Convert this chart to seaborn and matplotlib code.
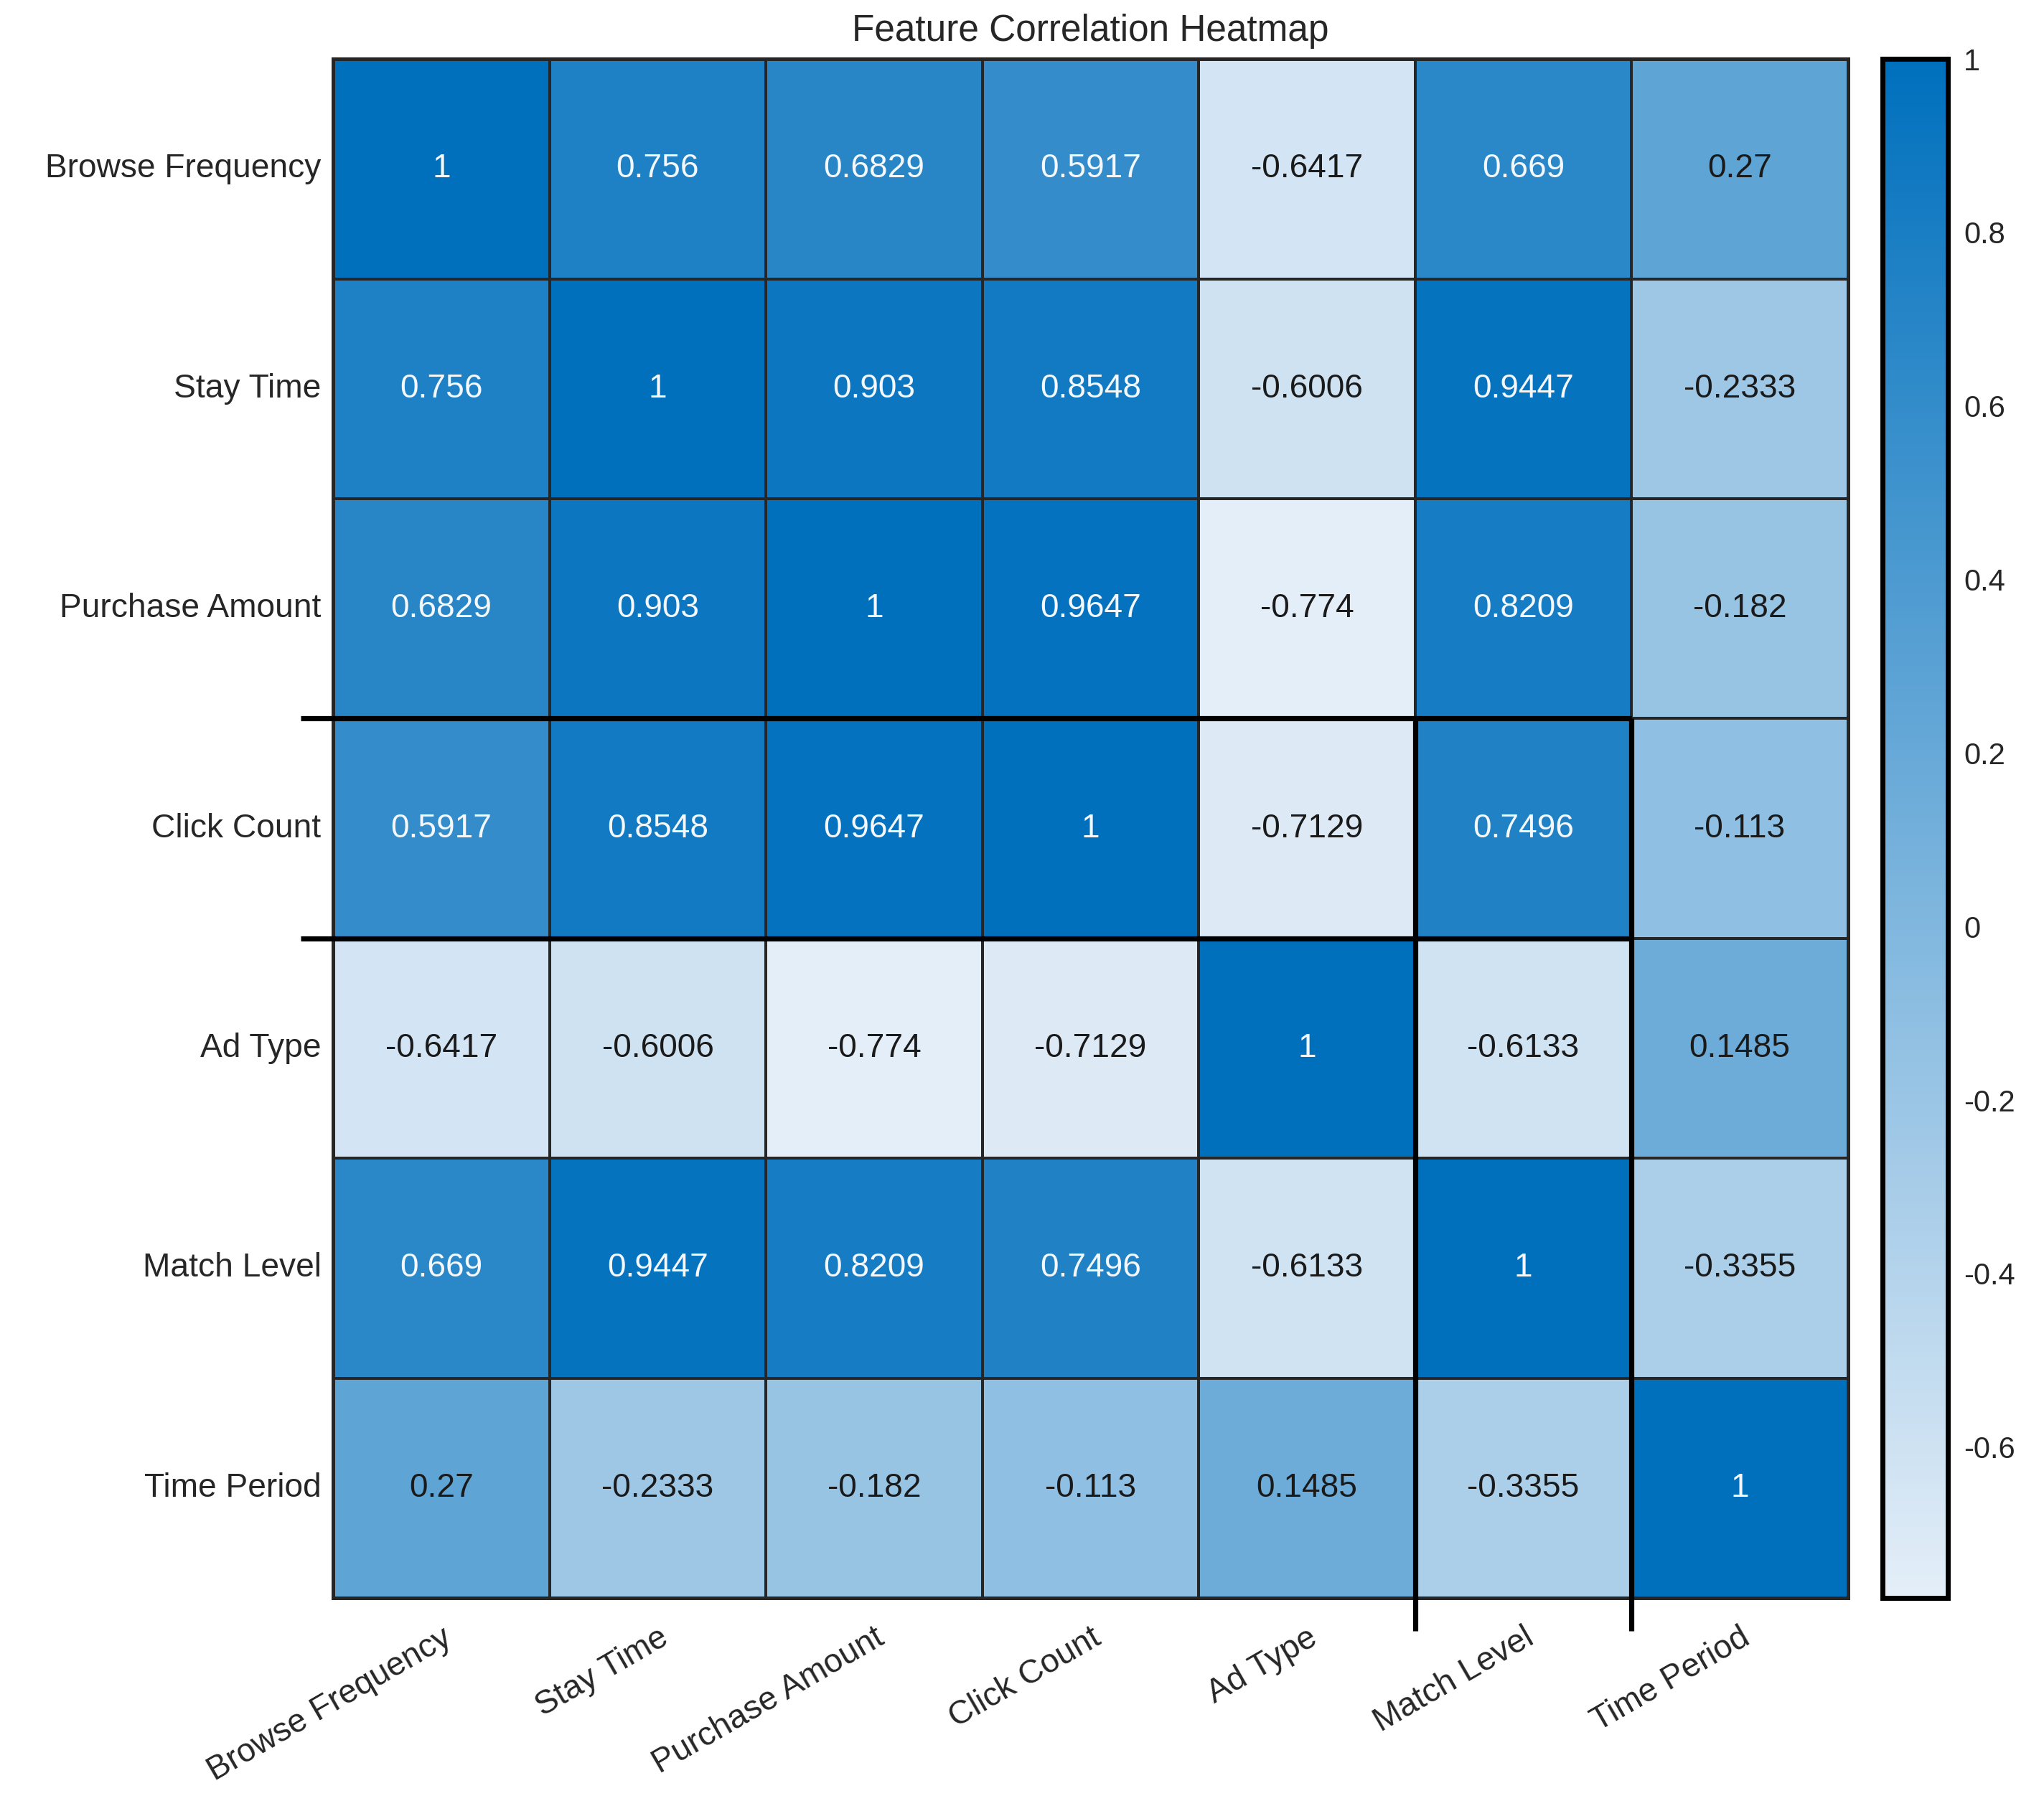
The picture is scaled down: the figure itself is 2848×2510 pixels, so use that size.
import numpy as np
import pandas as pd
import seaborn as sns
import matplotlib.pyplot as plt
from matplotlib.colors import LinearSegmentedColormap

# ---------------- data ----------------
features = ["Browse Frequency", "Stay Time", "Purchase Amount", "Click Count",
            "Ad Type", "Match Level", "Time Period"]
browse_frequency = [1, 0.756, 0.6829, 0.5917, -0.6417, 0.669, 0.27]
stay_time        = [0.756, 1, 0.903, 0.8548, -0.6006, 0.9447, -0.2333]
purchase_amount  = [0.6829, 0.903, 1, 0.9647, -0.774, 0.8209, -0.182]
click_count      = [0.5917, 0.8548, 0.9647, 1, -0.7129, 0.7496, -0.113]
ad_type          = [-0.6417, -0.6006, -0.774, -0.7129, 1, -0.6133, 0.1485]
match_level      = [0.669, 0.9447, 0.8209, 0.7496, -0.6133, 1, -0.3355]
time_period      = [0.27, -0.2333, -0.182, -0.113, 0.1485, -0.3355, 1]
cbar_ticks = [-0.6, -0.4, -0.2, 0, 0.2, 0.4, 0.6, 0.8, 1]
title = "Feature Correlation Heatmap"

corr = np.array([browse_frequency, stay_time, purchase_amount, click_count,
                 ad_type, match_level, time_period])
df = pd.DataFrame(corr, index=features, columns=features)

# highlighted cell (row / column index)
HL_ROW, HL_COL = 3, 5

# ---------------- style ----------------
sns.set_theme(style="white")
plt.rcParams['font.family'] = ['Liberation Sans', 'DejaVu Sans']
txt_color = '#262626'

fig = plt.figure(figsize=(14.24, 12.55), dpi=200)
ax = fig.add_axes([0.163, 0.1127, 0.741, 0.8546])
cax = fig.add_axes([0.921, 0.1127, 0.032, 0.8546])

cmap = LinearSegmentedColormap.from_list('mblue', ['#e4eef8', '#0070bd'])

sns.heatmap(df, ax=ax, cbar_ax=cax, cmap=cmap,
            vmin=corr.min(), vmax=corr.max(),
            annot=True, fmt='.4g', annot_kws=dict(fontsize=16.6),
            linewidths=1.3, linecolor='#262626')

# annotation colours
for t in ax.texts:
    v = float(t.get_text())
    t.set_color('#f4f8fc' if v > 0.4 else '#1a1a1a')

# axes border
for s in ax.spines.values():
    s.set_visible(True)
    s.set_color('#262626')
    s.set_linewidth(1.8)

ax.set_title(title, fontsize=18.5, color=txt_color, pad=9)
ax.tick_params(axis='both', length=0, labelsize=16.6, colors=txt_color)
ax.tick_params(axis='y', pad=6)
ax.tick_params(axis='x', pad=12)
ax.set_yticklabels(features, rotation=0, ha='right', va='center')
ax.set_xticklabels(features, rotation=30, ha='right', va='top',
                   rotation_mode='anchor')
ax.set_xlabel('')
ax.set_ylabel('')

# highlight lines
lw = 2.6
n = len(features)
ext = 0.15
for y in (HL_ROW, HL_ROW + 1):
    ax.plot([-ext, HL_COL + 1], [y, y], color='black', lw=lw,
            clip_on=False, zorder=10, solid_capstyle='butt')
for x in (HL_COL, HL_COL + 1):
    ax.plot([x, x], [HL_ROW, n + ext], color='black', lw=lw,
            clip_on=False, zorder=10, solid_capstyle='butt')

# colorbar
cbar = ax.collections[0].colorbar
cbar.outline.set_edgecolor('black')
cbar.outline.set_linewidth(2.5)
cbar.set_ticks(cbar_ticks)
cbar.set_ticklabels([f'{v:g}' for v in cbar_ticks])
cax.tick_params(axis='y', direction='in', length=7, width=1.2, color='black',
                labelsize=15, labelcolor=txt_color, right=True, left=False,
                pad=8)

fig.savefig('out.png', dpi=200, facecolor='white')
